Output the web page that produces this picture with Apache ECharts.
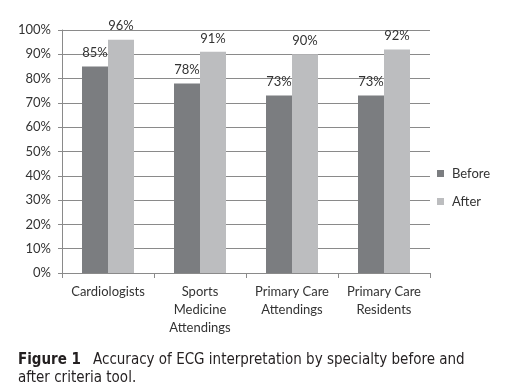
<!DOCTYPE html>
<html>
<head>
<meta charset="utf-8">
<script src="https://cdn.jsdelivr.net/npm/echarts@6/dist/echarts.min.js"></script>
<style>
html,body{margin:0;padding:0;background:#fff;}
#chart{width:510px;height:390px;}
</style>
</head>
<body>
<div id="chart"></div>
<script>
var categories = ['Cardiologists', 'Sports\nMedicine\nAttendings', 'Primary Care\nAttendings', 'Primary Care\nResidents'];
var beforeValues = [85, 78, 73, 73];
var afterValues = [96, 91, 90, 92];
var seriesNames = ['Before', 'After'];

var chart = echarts.init(document.getElementById('chart'), null, {renderer: 'canvas'});
var FONT = 'Lato, "Open Sans", sans-serif';
var CAP = '"Liberation Sans Narrow", "DejaVu Sans Condensed", sans-serif';
var labelStyle = {
  show: true, position: 'top', distance: 7,
  formatter: '{c}%', fontFamily: FONT, fontSize: 13, color: '#333'
};
chart.setOption({
  backgroundColor: '#fff',
  animation: false,
  grid: {left: 62, right: 80, top: 30, bottom: 117},
  legend: {
    orient: 'vertical', left: 437, top: 167, padding: 0,
    icon: 'rect', itemWidth: 7, itemHeight: 7, itemGap: 15,
    textStyle: {fontFamily: FONT, fontSize: 13, color: '#333', padding: [0,0,0,3]},
    data: seriesNames
  },
  xAxis: {
    type: 'category', data: categories,
    axisLine: {lineStyle: {color: '#8a8a8a', width: 1}},
    axisTick: {show: true, length: 5, lineStyle: {color: '#8a8a8a'}},
    axisLabel: {fontFamily: FONT, fontSize: 13, color: '#333', lineHeight: 18, margin: 10, interval: 0}
  },
  yAxis: {
    type: 'value', min: 0, max: 100, interval: 10,
    axisLine: {show: true, lineStyle: {color: '#8a8a8a', width: 1}},
    axisTick: {show: true, length: 4, lineStyle: {color: '#8a8a8a'}},
    splitLine: {lineStyle: {color: '#8a8a8a', width: 1}},
    axisLabel: {formatter: '{value}%', fontFamily: FONT, fontSize: 13, color: '#333', margin: 11}
  },
  series: [
    {name: seriesNames[0], type: 'bar', data: beforeValues, barWidth: 26, barGap: '0%',
     itemStyle: {color: '#7b7d80'}, label: labelStyle},
    {name: seriesNames[1], type: 'bar', data: afterValues, barWidth: 26,
     itemStyle: {color: '#bcbdbf'}, label: labelStyle}
  ],
  graphic: [
    {type: 'text', left: 18, top: 353, style: {text: 'Figure 1', fontFamily: CAP, fontWeight: 'bold', fontSize: 15, fill: '#231f20'}},
    {type: 'text', left: 93, top: 353, style: {text: 'Accuracy of ECG interpretation by specialty before and', fontFamily: CAP, fontSize: 15, fill: '#231f20'}},
    {type: 'text', left: 18, top: 371, style: {text: 'after criteria tool.', fontFamily: CAP, fontSize: 15, fill: '#231f20'}}
  ]
});
</script>
</body>
</html>
